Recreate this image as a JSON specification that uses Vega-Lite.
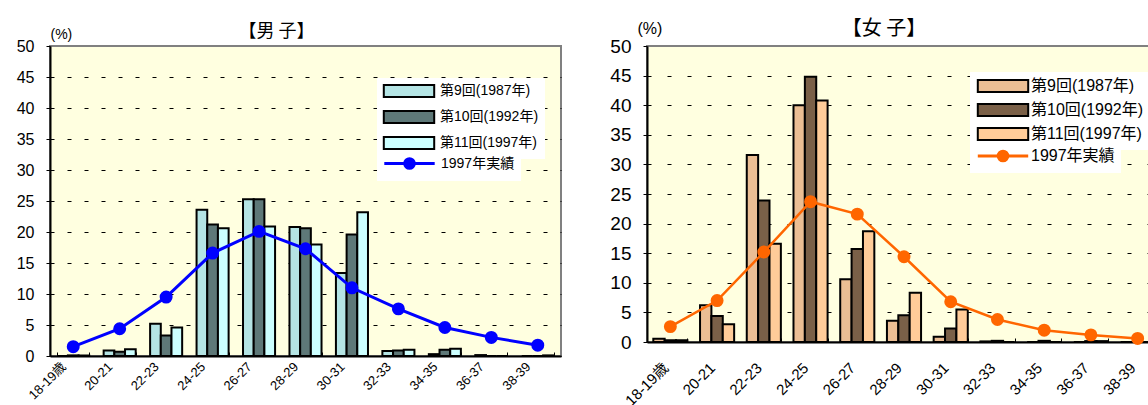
{
  "$schema": "https://vega.github.io/schema/vega-lite/v6.json",
  "background": "white",
  "padding": {"left": 15, "top": 18, "right": 0, "bottom": 0},
  "config": {
    "view": {"stroke": "#808080", "strokeWidth": 2, "fill": "#FFFFE0"},
    "font": "Liberation Sans, Noto Sans CJK JP",
    "axis": {"labelColor": "black", "domainColor": "black", "tickColor": "black", "gridColor": "black", "titleColor": "black", "labelOverlap": false}
  },
  "datasets": {
    "male_bars": [
      {"age": "18-19歳", "series": "第9回(1987年)", "value": 0},
      {"age": "18-19歳", "series": "第10回(1992年)", "value": 0.1},
      {"age": "18-19歳", "series": "第11回(1997年)", "value": 0.1},
      {"age": "20-21", "series": "第9回(1987年)", "value": 0.9},
      {"age": "20-21", "series": "第10回(1992年)", "value": 0.7},
      {"age": "20-21", "series": "第11回(1997年)", "value": 1.1},
      {"age": "22-23", "series": "第9回(1987年)", "value": 5.2},
      {"age": "22-23", "series": "第10回(1992年)", "value": 3.3},
      {"age": "22-23", "series": "第11回(1997年)", "value": 4.6},
      {"age": "24-25", "series": "第9回(1987年)", "value": 23.6},
      {"age": "24-25", "series": "第10回(1992年)", "value": 21.2},
      {"age": "24-25", "series": "第11回(1997年)", "value": 20.6},
      {"age": "26-27", "series": "第9回(1987年)", "value": 25.3},
      {"age": "26-27", "series": "第10回(1992年)", "value": 25.3},
      {"age": "26-27", "series": "第11回(1997年)", "value": 20.9},
      {"age": "28-29", "series": "第9回(1987年)", "value": 20.8},
      {"age": "28-29", "series": "第10回(1992年)", "value": 20.6},
      {"age": "28-29", "series": "第11回(1997年)", "value": 18.0},
      {"age": "30-31", "series": "第9回(1987年)", "value": 13.4},
      {"age": "30-31", "series": "第10回(1992年)", "value": 19.6},
      {"age": "30-31", "series": "第11回(1997年)", "value": 23.2},
      {"age": "32-33", "series": "第9回(1987年)", "value": 0.8},
      {"age": "32-33", "series": "第10回(1992年)", "value": 0.9},
      {"age": "32-33", "series": "第11回(1997年)", "value": 1.0},
      {"age": "34-35", "series": "第9回(1987年)", "value": 0.3},
      {"age": "34-35", "series": "第10回(1992年)", "value": 1.0},
      {"age": "34-35", "series": "第11回(1997年)", "value": 1.15},
      {"age": "36-37", "series": "第9回(1987年)", "value": 0.15},
      {"age": "36-37", "series": "第10回(1992年)", "value": 0},
      {"age": "36-37", "series": "第11回(1997年)", "value": 0},
      {"age": "38-39", "series": "第9回(1987年)", "value": 0},
      {"age": "38-39", "series": "第10回(1992年)", "value": 0},
      {"age": "38-39", "series": "第11回(1997年)", "value": 0.1}
    ],
    "male_line": [
      {"age": "18-19歳", "value": 1.5},
      {"age": "20-21", "value": 4.4},
      {"age": "22-23", "value": 9.5},
      {"age": "24-25", "value": 16.6},
      {"age": "26-27", "value": 20.1},
      {"age": "28-29", "value": 17.3},
      {"age": "30-31", "value": 11.0},
      {"age": "32-33", "value": 7.6},
      {"age": "34-35", "value": 4.6},
      {"age": "36-37", "value": 3.0},
      {"age": "38-39", "value": 1.75}
    ],
    "female_bars": [
      {"age": "18-19歳", "series": "第9回(1987年)", "value": 0.55},
      {"age": "18-19歳", "series": "第10回(1992年)", "value": 0.3},
      {"age": "18-19歳", "series": "第11回(1997年)", "value": 0.3},
      {"age": "20-21", "series": "第9回(1987年)", "value": 6.2},
      {"age": "20-21", "series": "第10回(1992年)", "value": 4.4},
      {"age": "20-21", "series": "第11回(1997年)", "value": 3.0},
      {"age": "22-23", "series": "第9回(1987年)", "value": 31.6},
      {"age": "22-23", "series": "第10回(1992年)", "value": 23.9},
      {"age": "22-23", "series": "第11回(1997年)", "value": 16.6},
      {"age": "24-25", "series": "第9回(1987年)", "value": 40.0},
      {"age": "24-25", "series": "第10回(1992年)", "value": 44.8},
      {"age": "24-25", "series": "第11回(1997年)", "value": 40.8},
      {"age": "26-27", "series": "第9回(1987年)", "value": 10.6},
      {"age": "26-27", "series": "第10回(1992年)", "value": 15.7},
      {"age": "26-27", "series": "第11回(1997年)", "value": 18.7},
      {"age": "28-29", "series": "第9回(1987年)", "value": 3.6},
      {"age": "28-29", "series": "第10回(1992年)", "value": 4.5},
      {"age": "28-29", "series": "第11回(1997年)", "value": 8.3},
      {"age": "30-31", "series": "第9回(1987年)", "value": 0.9},
      {"age": "30-31", "series": "第10回(1992年)", "value": 2.3},
      {"age": "30-31", "series": "第11回(1997年)", "value": 5.5},
      {"age": "32-33", "series": "第9回(1987年)", "value": 0.1},
      {"age": "32-33", "series": "第10回(1992年)", "value": 0.2},
      {"age": "32-33", "series": "第11回(1997年)", "value": 0},
      {"age": "34-35", "series": "第9回(1987年)", "value": 0},
      {"age": "34-35", "series": "第10回(1992年)", "value": 0.2},
      {"age": "34-35", "series": "第11回(1997年)", "value": 0},
      {"age": "36-37", "series": "第9回(1987年)", "value": 0},
      {"age": "36-37", "series": "第10回(1992年)", "value": 0.15},
      {"age": "36-37", "series": "第11回(1997年)", "value": 0.15},
      {"age": "38-39", "series": "第9回(1987年)", "value": 0},
      {"age": "38-39", "series": "第10回(1992年)", "value": 0},
      {"age": "38-39", "series": "第11回(1997年)", "value": 0}
    ],
    "female_line": [
      {"age": "18-19歳", "value": 2.6},
      {"age": "20-21", "value": 7.0},
      {"age": "22-23", "value": 15.2},
      {"age": "24-25", "value": 23.7},
      {"age": "26-27", "value": 21.6},
      {"age": "28-29", "value": 14.4},
      {"age": "30-31", "value": 6.8},
      {"age": "32-33", "value": 3.8},
      {"age": "34-35", "value": 2.0},
      {"age": "36-37", "value": 1.2},
      {"age": "38-39", "value": 0.6}
    ]
  },
  "columns": 2,
  "align": "none",
  "spacing": 46,
  "resolve": {
    "scale": {"fill": "independent", "stroke": "independent", "x": "independent", "y": "independent", "xOffset": "independent"},
    "legend": {"fill": "independent", "stroke": "independent"}
  },
  "concat": [
    {
      "width": 511,
      "height": 310,
      "title": {"text": "【男 子】", "font": "Noto Sans CJK JP", "fontSize": 18, "fontWeight": "normal", "color": "black", "offset": 0, "dy": 14, "dx": -29},
      "encoding": {
        "x": {
          "field": "age", "type": "nominal", "sort": null,
          "scale": {"paddingInner": 0.31, "paddingOuter": 0.155},
          "axis": {"title": null, "labelAngle": -45, "labelFontSize": 13, "labelPadding": 8, "labelOffset": -14, "domainWidth": 2, "tickBand": "extent", "tickSize": -4, "grid": false}
        },
        "y": {
          "field": "value", "type": "quantitative",
          "scale": {"domain": [0, 50]},
          "axis": {
            "title": "(%)", "titleAngle": 0, "titleAlign": "left", "titleBaseline": "middle", "titleX": 0, "titleY": -12, "titleFontSize": 14, "titleFontWeight": "normal",
            "values": [0, 5, 10, 15, 20, 25, 30, 35, 40, 45, 50],
            "labelFontSize": 16, "labelPadding": 12, "tickSize": 4, "domainWidth": 2,
            "grid": true, "gridDash": [4, 13], "gridWidth": 1,
            "gridOpacity": {"condition": {"test": "datum.value === 50", "value": 0}, "value": 1}
          }
        }
      },
      "layer": [
        {
          "data": {"name": "male_bars"},
          "mark": {"type": "bar", "stroke": "black", "strokeWidth": 2},
          "encoding": {
            "xOffset": {"field": "series", "type": "nominal", "sort": null, "scale": {"domain": ["第9回(1987年)", "第10回(1992年)", "第11回(1997年)"]}},
            "fill": {
              "field": "series", "type": "nominal",
              "scale": {"domain": ["第9回(1987年)", "第10回(1992年)", "第11回(1997年)"], "range": ["#B4E4E4", "#5E7878", "#CCFFFF"]},
              "legend": {
                "title": null, "orient": "none", "legendX": 327, "legendY": 32,
                "fillColor": "white", "padding": 6, "rowPadding": 6,
                "symbolSize": 144, "symbolOffset": 19, "labelOffset": 24,
                "labelFontSize": 14, "labelColor": "black", "symbolType": "M-4.2,-1H4.2V1H-4.2Z",
                "symbolStrokeColor": "black", "symbolStrokeWidth": 2, "symbolOpacity": 1
              }
            }
          }
        },
        {
          "data": {"name": "male_line"},
          "mark": {"type": "line", "strokeWidth": 3, "point": {"filled": true, "size": 120, "opacity": 1, "fill": "#0000FF"}},
          "encoding": {
            "stroke": {
              "datum": "1997年実績",
              "scale": {"domain": ["1997年実績"], "range": ["#0000FF"]},
              "legend": {
                "title": null, "orient": "none", "legendX": 327, "legendY": 104,
                "fillColor": "white", "padding": 6,
                "symbolSize": 144, "symbolOffset": 19, "labelOffset": 24,
                "labelFontSize": 14, "labelColor": "black", "labelExpr": "datum.label + '　　　'",
                "symbolType": "M-4.2,0H4.2M-0.8,0A0.8,0.8 0 1,0 0.8,0A0.8,0.8 0 1,0 -0.8,0M-0.55,0A0.55,0.55 0 1,0 0.55,0A0.55,0.55 0 1,0 -0.55,0M-0.3,0A0.3,0.3 0 1,0 0.3,0A0.3,0.3 0 1,0 -0.3,0",
                "symbolStrokeWidth": 3, "symbolOpacity": 1
              }
            }
          }
        }
      ]
    },
    {
      "width": 514,
      "height": 296,
      "title": {"text": "【女 子】", "font": "Noto Sans CJK JP", "fontSize": 20, "fontWeight": "normal", "color": "black", "offset": 0, "dy": 19, "dx": -20},
      "encoding": {
        "x": {
          "field": "age", "type": "nominal", "sort": null,
          "scale": {"paddingInner": 0.27, "paddingOuter": 0.135},
          "axis": {"title": null, "labelAngle": -45, "labelFontSize": 15, "labelPadding": 22, "labelOffset": -10, "domainWidth": 2, "tickBand": "extent", "tickSize": -4, "grid": false}
        },
        "y": {
          "field": "value", "type": "quantitative",
          "scale": {"domain": [0, 50]},
          "axis": {
            "title": "(%)", "titleAngle": 0, "titleAlign": "left", "titleBaseline": "middle", "titleX": -10, "titleY": -18, "titleFontSize": 16, "titleFontWeight": "normal",
            "values": [0, 5, 10, 15, 20, 25, 30, 35, 40, 45, 50],
            "labelFontSize": 19, "labelPadding": 12, "tickSize": 4, "domainWidth": 2,
            "grid": true, "gridDash": [4, 16], "gridWidth": 1,
            "gridOpacity": {"condition": {"test": "datum.value === 50", "value": 0}, "value": 1}
          }
        }
      },
      "layer": [
        {
          "data": {"name": "female_bars"},
          "mark": {"type": "bar", "stroke": "black", "strokeWidth": 2},
          "encoding": {
            "xOffset": {"field": "series", "type": "nominal", "sort": null, "scale": {"domain": ["第9回(1987年)", "第10回(1992年)", "第11回(1997年)"]}},
            "fill": {
              "field": "series", "type": "nominal",
              "scale": {"domain": ["第9回(1987年)", "第10回(1992年)", "第11回(1997年)"], "range": ["#EBBE94", "#7A6048", "#FFCC99"]},
              "legend": {
                "title": null, "orient": "none", "legendX": 323, "legendY": 26,
                "fillColor": "white", "padding": 6, "rowPadding": 4,
                "symbolSize": 144, "symbolOffset": 19, "labelOffset": 20,
                "labelFontSize": 16, "labelColor": "black", "symbolType": "M-4.2,-1H4.2V1H-4.2Z",
                "symbolStrokeColor": "black", "symbolStrokeWidth": 2, "symbolOpacity": 1
              }
            }
          }
        },
        {
          "data": {"name": "female_line"},
          "mark": {"type": "line", "strokeWidth": 2.5, "point": {"filled": true, "size": 120, "opacity": 1, "fill": "#FF6600"}},
          "encoding": {
            "stroke": {
              "datum": "1997年実績",
              "scale": {"domain": ["1997年実績"], "range": ["#FF6600"]},
              "legend": {
                "title": null, "orient": "none", "legendX": 323, "legendY": 96,
                "fillColor": "white", "padding": 6,
                "symbolSize": 144, "symbolOffset": 19, "labelOffset": 20,
                "labelFontSize": 16, "labelColor": "black", "labelExpr": "datum.label + '　　　'",
                "symbolType": "M-4.2,0H4.2M-0.8,0A0.8,0.8 0 1,0 0.8,0A0.8,0.8 0 1,0 -0.8,0M-0.55,0A0.55,0.55 0 1,0 0.55,0A0.55,0.55 0 1,0 -0.55,0M-0.3,0A0.3,0.3 0 1,0 0.3,0A0.3,0.3 0 1,0 -0.3,0",
                "symbolStrokeWidth": 3, "symbolOpacity": 1
              }
            }
          }
        }
      ]
    }
  ]
}
